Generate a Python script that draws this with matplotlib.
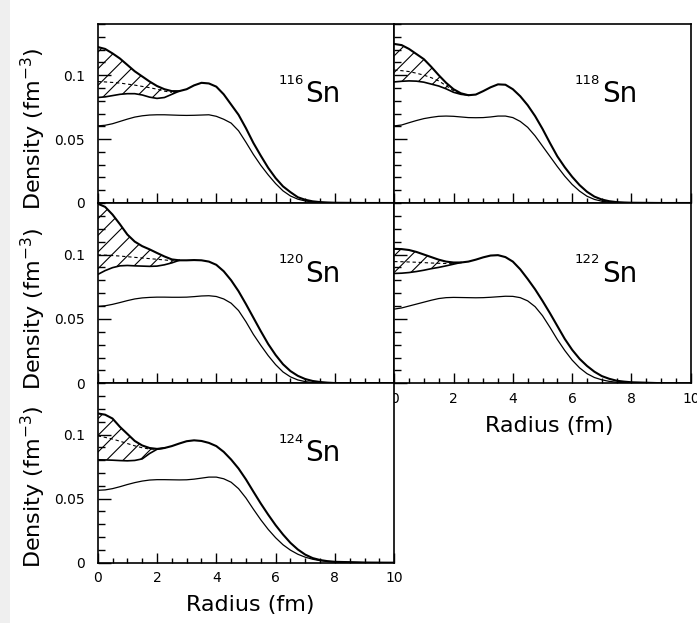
import numpy as np
import matplotlib
matplotlib.use("Agg")
import matplotlib.pyplot as plt
from matplotlib.patches import Rectangle
from matplotlib.ticker import MultipleLocator, FixedLocator, FuncFormatter

# ---------------------------------------------------------------------------
# Density profiles for the Sn isotopes (fm^-3) on a common radius grid (fm)
# hi/lo  : upper and lower edge of the hatched band (lo only up to the merge)
# mid    : dashed curve inside the band
# thin   : lower (thin) profile
# ---------------------------------------------------------------------------
R = [0.0, 0.25, 0.5, 0.75, 1.0, 1.25, 1.5, 1.75, 2.0, 2.25,
     2.5, 2.75, 3.0, 3.25, 3.5, 3.75, 4.0, 4.25, 4.5, 4.75,
     5.0, 5.25, 5.5, 5.75, 6.0, 6.25, 6.5, 6.75, 7.0, 7.25,
     7.5, 7.75, 8.0, 9.0, 10.0]

ISOTOPES = ["116", "118", "120", "122", "124"]

hi_116 = [0.122, 0.1205, 0.117, 0.113, 0.108, 0.103, 0.099, 0.095, 0.0915, 0.089,
          0.0875, 0.0875, 0.089, 0.092, 0.094, 0.0935, 0.091, 0.085, 0.077, 0.069,
          0.0585, 0.047, 0.037, 0.0275, 0.0195, 0.013, 0.0085, 0.0045, 0.0025, 0.0013,
          0.0007, 0.0004, 0.0002, 0.0, 0.0]
lo_116 = [0.0825, 0.083, 0.084, 0.085, 0.0855, 0.0855, 0.0845, 0.0828, 0.0818, 0.0825,
          0.085, 0.0875]
mid_116 = [0.095, 0.0947, 0.0943, 0.0938, 0.093, 0.0922, 0.0912, 0.0902, 0.089, 0.0875,
           0.0865]
thin_116 = [0.0603, 0.0608, 0.062, 0.0638, 0.0656, 0.0672, 0.0682, 0.0688, 0.069, 0.069,
            0.0688, 0.0686, 0.0685, 0.0686, 0.0688, 0.069, 0.0678, 0.0655, 0.0625, 0.0565,
            0.0475, 0.038, 0.0295, 0.022, 0.0152, 0.0095, 0.0055, 0.003, 0.0016, 0.0008,
            0.0004, 0.0002, 0.0001, 0.0, 0.0]

hi_118 = [0.1244, 0.1235, 0.1205, 0.1165, 0.1125, 0.1065, 0.100, 0.094, 0.089, 0.0858,
          0.0843, 0.0848, 0.0875, 0.0905, 0.0928, 0.0925, 0.089, 0.0835, 0.0765, 0.068,
          0.058, 0.047, 0.0365, 0.028, 0.0205, 0.014, 0.0088, 0.005, 0.0027, 0.0014,
          0.0007, 0.0004, 0.0002, 0.0, 0.0]
lo_118 = [0.0947, 0.0952, 0.0955, 0.0953, 0.0945, 0.093, 0.0915, 0.0893, 0.0866, 0.085,
          0.0843]
mid_118 = [0.104, 0.1035, 0.1028, 0.1015, 0.100, 0.098, 0.0955, 0.0918, 0.0878, 0.0854]
thin_118 = [0.0603, 0.061, 0.0628, 0.0645, 0.066, 0.067, 0.0678, 0.068, 0.0678, 0.0673,
            0.0668, 0.0667, 0.0668, 0.0673, 0.068, 0.068, 0.0668, 0.0638, 0.0592, 0.0525,
            0.0445, 0.0365, 0.0285, 0.021, 0.0145, 0.0093, 0.0053, 0.0028, 0.0014, 0.0007,
            0.0003, 0.0001, 0.0, 0.0, 0.0]

hi_120 = [0.1395, 0.137, 0.131, 0.1235, 0.1155, 0.110, 0.1065, 0.104, 0.1012, 0.0985,
          0.0962, 0.0955, 0.0955, 0.0957, 0.0955, 0.0945, 0.092, 0.087, 0.080, 0.0715,
          0.0615, 0.051, 0.0405, 0.0305, 0.022, 0.0148, 0.0095, 0.0058, 0.0033, 0.0018,
          0.001, 0.0005, 0.0002, 0.0, 0.0]
lo_120 = [0.0845, 0.0875, 0.0898, 0.0912, 0.0915, 0.0912, 0.091, 0.0908, 0.091, 0.092,
          0.0935, 0.0955]
mid_120 = [0.0997, 0.0995, 0.0992, 0.0988, 0.0983, 0.0978, 0.0973, 0.0968, 0.0963, 0.0958,
           0.0952]
thin_120 = [0.0597, 0.0602, 0.0613, 0.0627, 0.0642, 0.0655, 0.0663, 0.0667, 0.0669, 0.0669,
            0.0668, 0.0668, 0.0669, 0.0673, 0.0678, 0.068, 0.0674, 0.0655, 0.0622, 0.0565,
            0.0478, 0.038, 0.0295, 0.0215, 0.0145, 0.0088, 0.005, 0.0026, 0.0013, 0.0006,
            0.0003, 0.0001, 0.0, 0.0, 0.0]

hi_122 = [0.1044, 0.1042, 0.1035, 0.102, 0.100, 0.098, 0.096, 0.0945, 0.0938, 0.0938,
          0.0945, 0.096, 0.0978, 0.0992, 0.0995, 0.098, 0.0945, 0.0885, 0.081, 0.073,
          0.064, 0.0545, 0.0445, 0.0345, 0.026, 0.019, 0.0135, 0.009, 0.0056, 0.0035,
          0.002, 0.0013, 0.0008, 0.0001, 0.0]
lo_122 = [0.0853, 0.0855, 0.086, 0.0868, 0.0878, 0.089, 0.090, 0.0912, 0.0925, 0.0938]
mid_122 = [0.0945, 0.0944, 0.0942, 0.094, 0.0937, 0.0934, 0.0932, 0.093, 0.0932, 0.0938]
thin_122 = [0.0576, 0.0585, 0.060, 0.0615, 0.063, 0.0645, 0.0658, 0.0665, 0.0667, 0.0666,
            0.0665, 0.0664, 0.0665, 0.0668, 0.0672, 0.0676, 0.0675, 0.0665, 0.064, 0.0595,
            0.0525, 0.0435, 0.034, 0.0255, 0.018, 0.012, 0.0075, 0.0045, 0.0027, 0.0015,
            0.0008, 0.0004, 0.0002, 0.0, 0.0]

hi_124 = [0.1165, 0.1155, 0.1125, 0.106, 0.1005, 0.095, 0.0915, 0.0895, 0.0888, 0.0895,
          0.091, 0.093, 0.0948, 0.0955, 0.095, 0.0935, 0.091, 0.0865, 0.0805, 0.0735,
          0.065, 0.0555, 0.0462, 0.0375, 0.0293, 0.022, 0.0155, 0.0103, 0.0063, 0.0036,
          0.0021, 0.0012, 0.0007, 0.0001, 0.0]
lo_124 = [0.0803, 0.0802, 0.080, 0.0797, 0.0795, 0.0798, 0.081, 0.0852, 0.0885, 0.0895]
mid_124 = [0.099, 0.0978, 0.0965, 0.0948, 0.093, 0.0912, 0.0897, 0.0887, 0.0886]
thin_124 = [0.0565, 0.0568, 0.0578, 0.0593, 0.061, 0.0625, 0.0637, 0.0645, 0.0648, 0.0648,
            0.0647, 0.0646, 0.0647, 0.0652, 0.066, 0.0668, 0.0668, 0.0655, 0.0628, 0.0578,
            0.0505, 0.0418, 0.0335, 0.026, 0.0195, 0.014, 0.0098, 0.0066, 0.0043, 0.0027,
            0.0016, 0.001, 0.0006, 0.0001, 0.0]

HI = [hi_116, hi_118, hi_120, hi_122, hi_124]
LO = [lo_116, lo_118, lo_120, lo_122, lo_124]
MID = [mid_116, mid_118, mid_120, mid_122, mid_124]
THIN = [thin_116, thin_118, thin_120, thin_122, thin_124]

# ---------------------------------------------------------------------------
W, H = 697, 623
fig = plt.figure(figsize=(W / 100, H / 100), dpi=100)
fig.patch.set_facecolor("white")
fig.patches.append(Rectangle((0, 0), 10 / W, 1, transform=fig.transFigure,
                             facecolor="#efefef", edgecolor="none", zorder=-1))


def px_box(x0, y0, x1, y1):
    """pixel box (top-left origin) -> figure-fraction rect"""
    return [x0 / W, 1 - y1 / H, (x1 - x0) / W, (y1 - y0) / H]


XL = (97.7, 394.2)
XR = (394.2, 690.8)
ROWS = [(24.0, 203.0), (203.0, 383.3), (383.3, 562.7)]
# (column, row) for each isotope
SLOTS = [(0, 0), (1, 0), (0, 1), (1, 1), (0, 2)]

plt.rcParams["font.family"] = "DejaVu Sans"
plt.rcParams["hatch.linewidth"] = 0.8

for k, iso in enumerate(ISOTOPES):
    col, row = SLOTS[k]
    xs = XL if col == 0 else XR
    y0, y1 = ROWS[row]
    ax = fig.add_axes(px_box(xs[0], y0, xs[1], y1))

    n = len(LO[k])
    ax.fill_between(R[:n], LO[k], HI[k][:n], facecolor="none", edgecolor="black",
                    hatch="//", linewidth=0)
    ax.plot(R, HI[k], color="black", lw=1.5)
    ax.plot(R[:n], LO[k], color="black", lw=1.2)
    ax.plot(R[:len(MID[k])], MID[k], color="black", lw=0.8, dashes=(3, 2.5))
    ax.plot(R, THIN[k], color="black", lw=0.9)

    ax.set_xlim(0, 10)
    ax.set_ylim(0, 0.14)
    ax.xaxis.set_major_locator(MultipleLocator(2))
    ax.xaxis.set_minor_locator(MultipleLocator(0.5))
    ax.yaxis.set_major_locator(FixedLocator([0, 0.05, 0.1]))
    ax.yaxis.set_minor_locator(MultipleLocator(0.01))
    ax.tick_params(axis="both", which="both", direction="in", top=False, right=False,
                   colors="black", labelsize=10)
    ax.tick_params(axis="y", which="major", length=9, width=1.0, pad=9)
    ax.tick_params(axis="y", which="minor", length=5, width=1.0)
    ax.tick_params(axis="x", which="major", length=7, width=1.0, pad=6)
    ax.tick_params(axis="x", which="minor", length=3.5, width=1.0)
    ax.yaxis.set_major_formatter(FuncFormatter(lambda v, p: "%g" % v))
    for s in ax.spines.values():
        s.set_linewidth(1.2)

    show_y = col == 0
    show_x = (col == 0 and row == 2) or (col == 1 and row == 1)
    ax.tick_params(axis="y", labelleft=show_y)
    ax.tick_params(axis="x", labelbottom=show_x)

    # isotope tag
    ax.text(6.95, 0.0934, iso, fontsize=9.5, ha="right", va="baseline")
    ax.text(7.0, 0.079, "Sn", fontsize=20, ha="left", va="baseline")

# axis titles
for yc in (129, 309, 487):
    fig.text(33 / W, 1 - yc / H, r"Density (fm$^{-3}$)", rotation=90,
             fontsize=16, ha="center", va="center")
fig.text(250 / W, 1 - 605 / H, "Radius (fm)", fontsize=16, ha="center", va="center")
fig.text(549 / W, 1 - 426 / H, "Radius (fm)", fontsize=16, ha="center", va="center")

fig.savefig("out.png", dpi=100)
